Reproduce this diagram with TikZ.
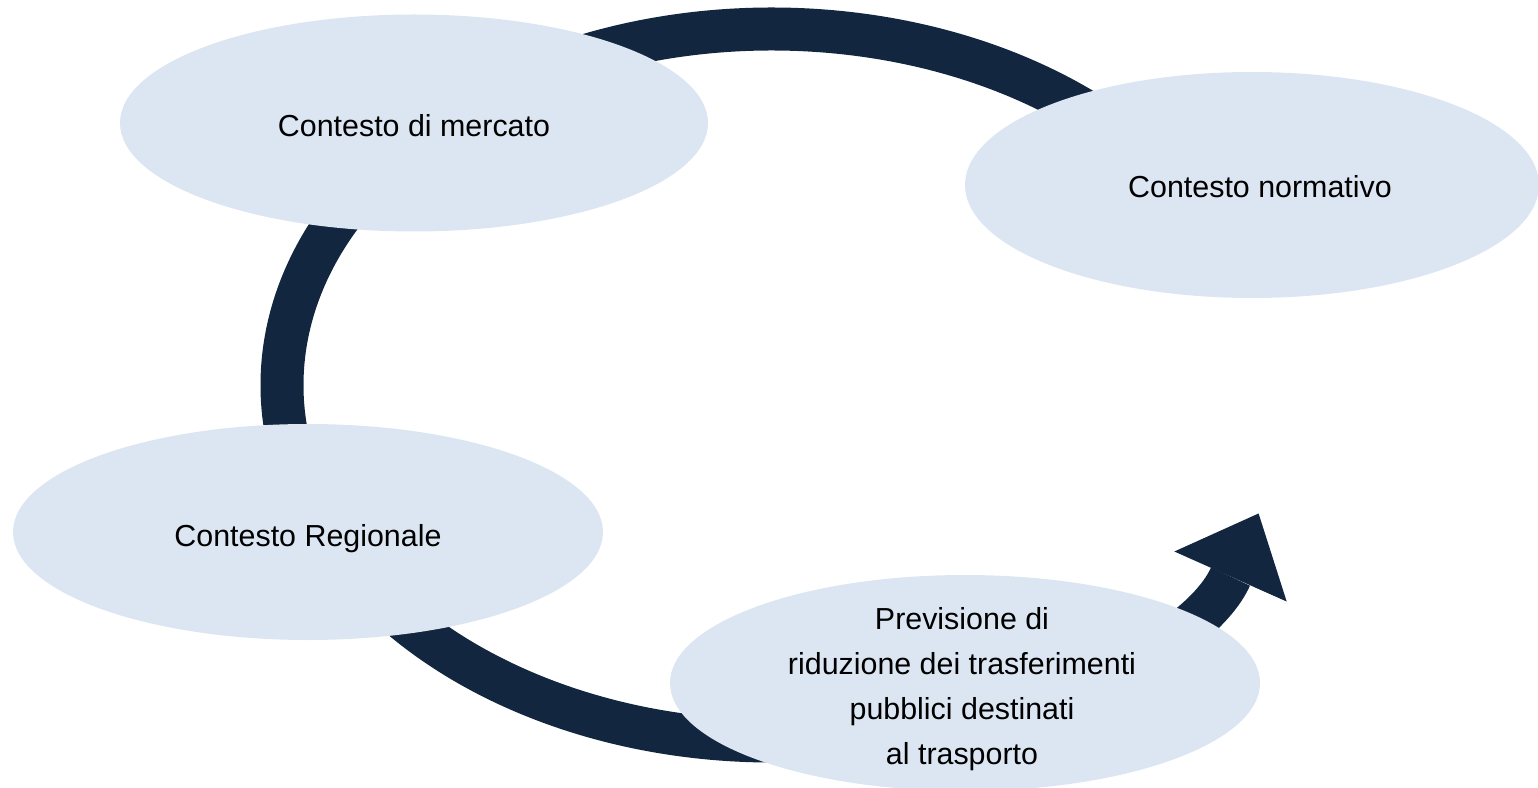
\documentclass[tikz,border=0pt]{standalone}
\usepackage{fontspec}
\setmainfont{Liberation Sans}
\usetikzlibrary{shapes.geometric,arrows.meta}
\definecolor{ringnavy}{HTML}{12263F}
\definecolor{bubblefill}{HTML}{DCE6F2}

\begin{document}
\begin{tikzpicture}[x=0.1mm,y=0.1mm,
  bubble/.style={ellipse,fill=bubblefill,inner sep=0pt,minimum width=59mm,minimum height=21.6mm},
  bubbletext/.style={align=center,inner sep=0pt,font=\fontsize{8.65}{12.8}\selectfont},
  ring/.style={line width=4.3mm,draw=ringnavy,
    -{Triangle[length=6.9mm,width=12.3mm,sep=0.6mm,line width=0pt]}}]

\useasboundingbox (0,0) rectangle (1538,787);

% the circular arrow, drawn first so the bubbles cover it
\coordinate (ringcentre) at (772,402);
\coordinate (tip) at (1261,279);
\draw[ring] (ringcentre) ++(40:490 and 356)
  arc[start angle=40,end angle=270,x radius=490,y radius=356]
  .. controls (1030,46) and (1200,142) .. (tip);

% the four bubbles
\node[bubble,minimum width=58.8mm,minimum height=21.7mm] (mercato) at (414,664) {};
\node[bubble,minimum width=57.4mm,minimum height=22.6mm] (normativo) at (1252,602) {};
\node[bubble] (regionale) at (308,255) {};
\node[bubble] (previsione) at (965,104) {};

\node[bubbletext] (mercatotxt) at (414,661) {Contesto di mercato};
\node[bubbletext] (normativotxt) at (1260,600) {Contesto normativo};
\node[bubbletext] (regionaletxt) at (308,248) {Contesto Regionale};
\node[bubbletext] (previsionetxt) at (962,98) {Previsione di\\riduzione dei trasferimenti\\pubblici destinati\\al trasporto};
\end{tikzpicture}
\end{document}
